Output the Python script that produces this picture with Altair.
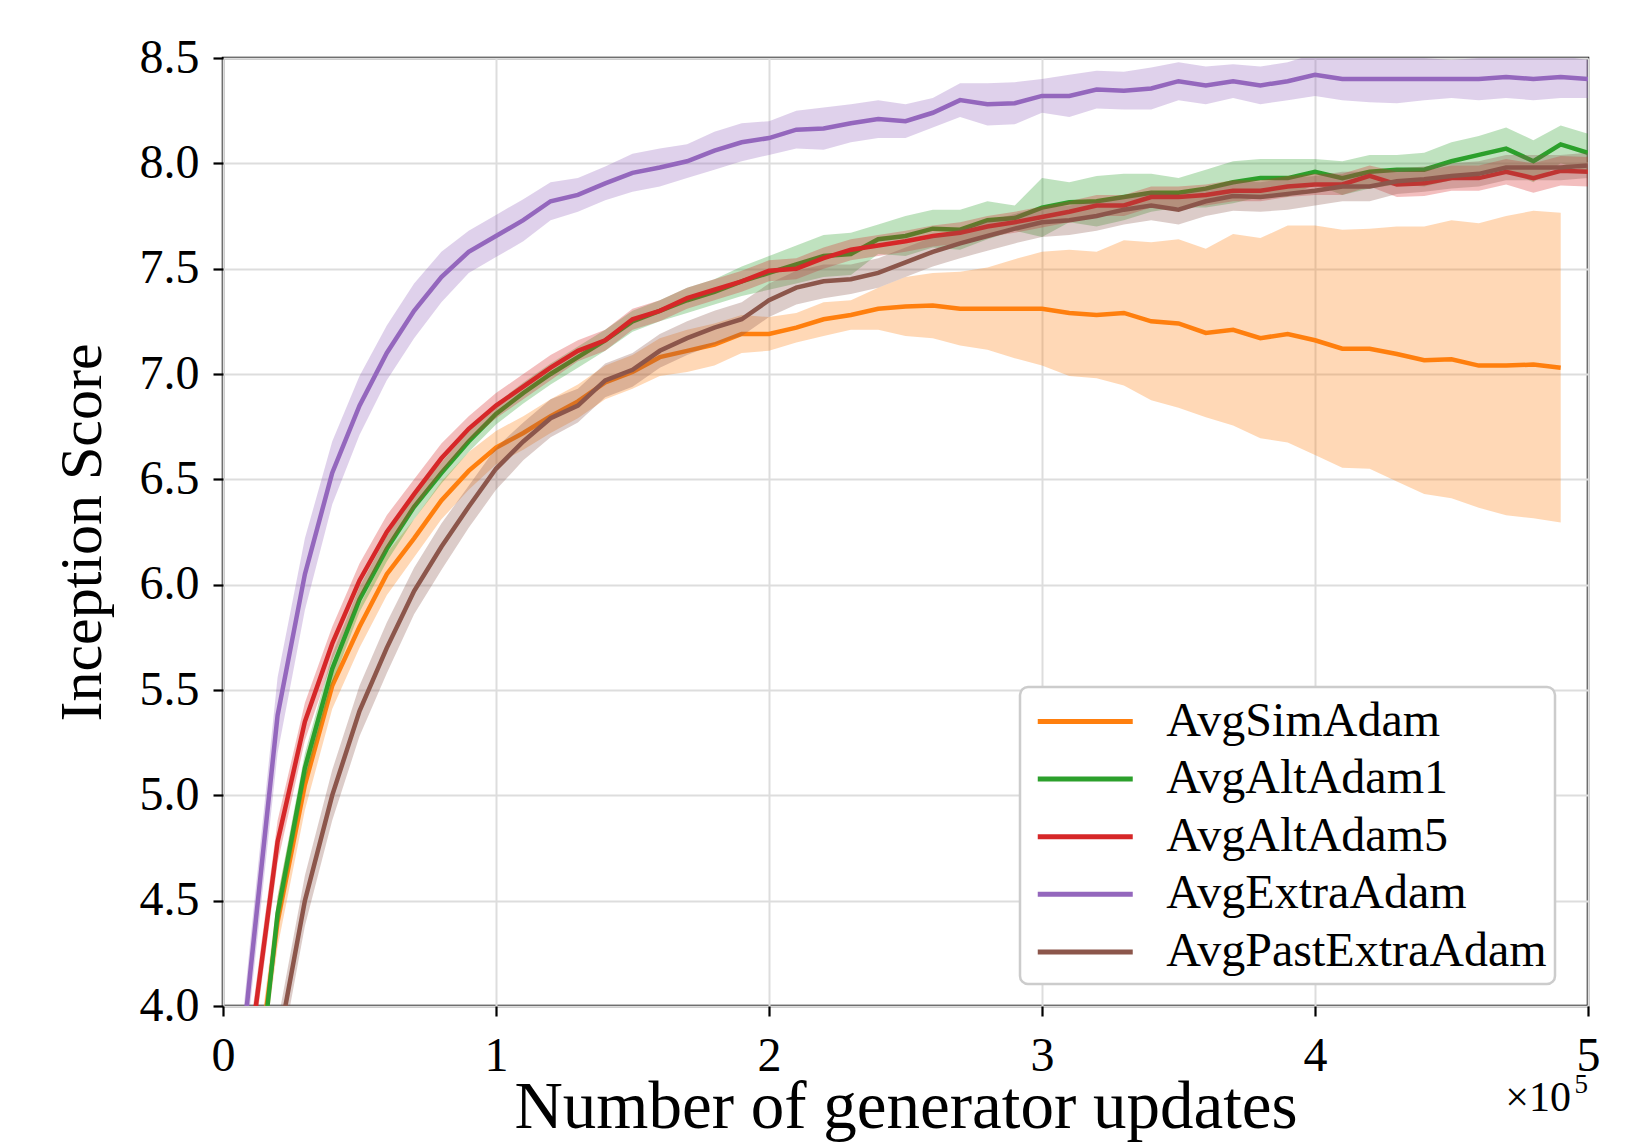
import altair as alt
import pandas as pd

# generator updates (x grid, every 1e4 updates)
updates = [i * 10000 for i in range(51)]

names = ["AvgSimAdam", "AvgAltAdam1", "AvgAltAdam5", "AvgExtraAdam", "AvgPastExtraAdam"]
colors = ["#ff7f0e", "#2ca02c", "#d62728", "#9467bd", "#8c564b"]

sim_mean = [2.2, 3.4, 4.4, 5.05, 5.52, 5.80, 6.05, 6.22, 6.40, 6.54,
            6.65, 6.72, 6.80, 6.87, 6.96, 7.01, 7.08, 7.11, 7.14, 7.19,
            7.19, 7.22, 7.26, 7.28, 7.31, 7.32, 7.325, 7.31, 7.31, 7.31,
            7.31, 7.29, 7.28, 7.29, 7.25, 7.24, 7.195, 7.21, 7.17, 7.19,
            7.16, 7.12, 7.12, 7.095, 7.065, 7.07, 7.04, 7.04, 7.045, 7.03]
sim_sd = [0.1, 0.1, 0.12, 0.12, 0.11, 0.1, 0.1, 0.09, 0.09, 0.09,
          0.08, 0.08, 0.08, 0.08, 0.08, 0.08, 0.09, 0.1, 0.1, 0.09,
          0.08, 0.07, 0.08, 0.07, 0.1, 0.14, 0.155, 0.175, 0.195, 0.235,
          0.27, 0.3, 0.3, 0.345, 0.375, 0.4, 0.4, 0.455, 0.475, 0.515,
          0.545, 0.565, 0.57, 0.605, 0.635, 0.66, 0.675, 0.71, 0.73, 0.735]

alt1_mean = [2.0, 3.25, 4.44, 5.13, 5.6, 5.93, 6.17, 6.37, 6.53, 6.68,
             6.81, 6.91, 7.0, 7.08, 7.16, 7.25, 7.30, 7.35, 7.39, 7.44,
             7.48, 7.52, 7.56, 7.57, 7.64, 7.655, 7.69, 7.685, 7.73, 7.74,
             7.79, 7.815, 7.82, 7.84, 7.86, 7.86, 7.88, 7.91, 7.93, 7.93,
             7.96, 7.93, 7.96, 7.97, 7.97, 8.01, 8.04, 8.07, 8.01, 8.09,
             8.05]
alt1_sd = [0.08, 0.08, 0.08, 0.07, 0.07, 0.06, 0.06, 0.06, 0.05, 0.05,
           0.05, 0.05, 0.05, 0.05, 0.05, 0.05, 0.05, 0.06, 0.06, 0.07,
           0.08, 0.09, 0.1, 0.10, 0.07, 0.095, 0.09, 0.095, 0.09, 0.06,
           0.14, 0.095, 0.12, 0.11, 0.09, 0.07, 0.09, 0.10, 0.09, 0.09,
           0.06, 0.08, 0.08, 0.07, 0.08, 0.09, 0.09, 0.10, 0.10, 0.09,
           0.09]

alt5_mean = [2.3, 3.8, 4.78, 5.35, 5.72, 6.02, 6.25, 6.43, 6.60, 6.74,
             6.85, 6.94, 7.03, 7.11, 7.16, 7.26, 7.30, 7.36, 7.40, 7.44,
             7.49, 7.50, 7.55, 7.59, 7.61, 7.63, 7.655, 7.67, 7.70, 7.72,
             7.745, 7.77, 7.80, 7.80, 7.84, 7.84, 7.85, 7.87, 7.87, 7.89,
             7.90, 7.90, 7.94, 7.90, 7.905, 7.93, 7.93, 7.96, 7.93, 7.965,
             7.96]
alt5_sd = [0.1, 0.1, 0.1, 0.09, 0.08, 0.08, 0.08, 0.07, 0.07, 0.06,
           0.06, 0.06, 0.06, 0.05, 0.05, 0.05, 0.05, 0.05, 0.05, 0.05,
           0.05, 0.05, 0.05, 0.05, 0.05, 0.05, 0.05, 0.05, 0.05, 0.05,
           0.05, 0.05, 0.05, 0.05, 0.05, 0.05, 0.05, 0.05, 0.05, 0.05,
           0.05, 0.05, 0.05, 0.06, 0.06, 0.06, 0.06, 0.06, 0.07, 0.07,
           0.07]

extra_mean = [2.9, 4.16, 5.38, 6.05, 6.53, 6.85, 7.10, 7.30, 7.46, 7.58,
              7.655, 7.73, 7.82, 7.85, 7.905, 7.955, 7.98, 8.01, 8.06, 8.10,
              8.12, 8.16, 8.165, 8.19, 8.21, 8.20, 8.24, 8.30, 8.28, 8.285,
              8.32, 8.32, 8.35, 8.345, 8.355, 8.39, 8.37, 8.39, 8.37, 8.39,
              8.42, 8.40, 8.40, 8.40, 8.40, 8.40, 8.40, 8.41, 8.40, 8.41,
              8.40]
extra_sd = [0.1, 0.15, 0.18, 0.17, 0.15, 0.14, 0.13, 0.13, 0.12, 0.1,
            0.1, 0.1, 0.09, 0.08, 0.08, 0.09, 0.09, 0.08, 0.09, 0.09,
            0.08, 0.09, 0.1, 0.09, 0.09, 0.08, 0.07, 0.08, 0.1, 0.1,
            0.08, 0.1, 0.09, 0.09, 0.1, 0.09, 0.09, 0.08, 0.09, 0.09,
            0.1, 0.1, 0.11, 0.115, 0.1, 0.09, 0.1, 0.1, 0.1, 0.1,
            0.09]

past_mean = [2.2, 3.0, 3.8, 4.5, 5.0, 5.40, 5.70, 5.97, 6.18, 6.37,
             6.55, 6.68, 6.79, 6.85, 6.97, 7.02, 7.11, 7.17, 7.22, 7.26,
             7.35, 7.41, 7.44, 7.45, 7.48, 7.53, 7.58, 7.62, 7.655, 7.69,
             7.72, 7.73, 7.75, 7.78, 7.80, 7.78, 7.82, 7.845, 7.84, 7.855,
             7.87, 7.89, 7.89, 7.915, 7.925, 7.94, 7.95, 7.98, 7.98, 7.98,
             7.99]
past_sd = [0.12, 0.12, 0.12, 0.12, 0.12, 0.12, 0.12, 0.11, 0.11, 0.1,
           0.1, 0.09, 0.09, 0.08, 0.08, 0.08, 0.08, 0.08, 0.08, 0.08,
           0.08, 0.08, 0.08, 0.07, 0.07, 0.07, 0.07, 0.07, 0.07, 0.07,
           0.07, 0.07, 0.07, 0.07, 0.07, 0.07, 0.07, 0.07, 0.07, 0.075,
           0.07, 0.07, 0.07, 0.06, 0.06, 0.06, 0.06, 0.06, 0.06, 0.06,
           0.06]

x_ticks = [0, 100000, 200000, 300000, 400000, 500000]
y_ticks = [4.0, 4.5, 5.0, 5.5, 6.0, 6.5, 7.0, 7.5, 8.0, 8.5]

means = [sim_mean, alt1_mean, alt5_mean, extra_mean, past_mean]
sds = [sim_sd, alt1_sd, alt5_sd, extra_sd, past_sd]

rows = []
for name, mean, sd in zip(names, means, sds):
    for u, m, s in zip(updates, mean, sd):
        rows.append({"series": name, "updates": u, "mean": m, "lo": m - s, "hi": m + s})
df = pd.DataFrame(rows)

W, H = 1365, 948
FONT = "Liberation Serif"

xscale = alt.Scale(domain=[0, 500000], nice=False, zero=False)
yscale = alt.Scale(domain=[4.0, 8.5], nice=False, zero=False)
xaxis = alt.Axis(values=x_ticks, labelExpr="format(datum.value / 100000, 'd')",
                 title="Number of generator updates", titleFontSize=67,
                 titleY=121, titleBaseline="alphabetic", labelFlush=False)
yaxis = alt.Axis(values=y_ticks, format=".1f", title="Inception Score",
                 titleFontSize=60, titleX=-123, titleY=H / 2, titleAngle=270,
                 titleBaseline="alphabetic", titleAlign="center")

color = alt.Color("series:N", scale=alt.Scale(domain=names, range=colors),
                  legend=alt.Legend(title=None, orient="none", legendX=797, legendY=629,
                                    symbolType="M-2,0H2", symbolSize=2256,
                                    symbolStrokeWidth=5, symbolOffset=30.75,
                                    labelFont=FONT, labelFontSize=48,
                                    labelColor="black", labelLimit=800,
                                    labelOffset=54.5, rowPadding=6.6, padding=8,
                                    strokeColor="#cccccc", fillColor="white",
                                    cornerRadius=8))

base = alt.Chart(df)
layers = []
for name, c in zip(names, colors):
    band = base.transform_filter(alt.datum.series == name).mark_area(
        color=c, opacity=0.3, clip=True
    ).encode(
        x=alt.X("updates:Q", scale=xscale, axis=xaxis),
        y=alt.Y("lo:Q", scale=yscale, axis=yaxis),
        y2="hi:Q",
    )
    line = base.transform_filter(alt.datum.series == name).mark_line(
        strokeWidth=4.5, clip=True
    ).encode(
        x=alt.X("updates:Q", scale=xscale, axis=xaxis),
        y=alt.Y("mean:Q", scale=yscale, axis=yaxis),
        color=color,
    )
    layers += [band, line]

offset_main = alt.Chart(pd.DataFrame({"t": ["×10"]})).mark_text(
    font=FONT, fontSize=42, align="right", baseline="alphabetic", color="black"
).encode(x=alt.value(W - 17), y=alt.value(H + 105), text="t:N")
offset_exp = alt.Chart(pd.DataFrame({"t": ["5"]})).mark_text(
    font=FONT, fontSize=27, align="right", baseline="alphabetic", color="black"
).encode(x=alt.value(W), y=alt.value(H + 87), text="t:N")

chart = alt.layer(*layers, offset_main, offset_exp).properties(
    width=W, height=H,
    autosize=alt.AutoSizeParams(type="none"),
    padding={"left": 223, "top": 58, "right": 64, "bottom": 136},
    background="white",
).configure_axis(
    grid=True, gridColor="#dddddd", gridWidth=2, domain=False,
    tickColor="black", tickWidth=2.2, tickSize=10,
    labelFont=FONT, labelFontSize=48, labelColor="black",
    titleFont=FONT, titleColor="black", titleFontWeight="normal",
).configure_axisX(labelPadding=16).configure_axisY(labelPadding=14).configure_legend(
    strokeWidth=2.5
).configure_view(
    stroke="black", strokeWidth=2.5
)

chart.save("out.html", embed_options={"renderer": "svg", "actions": False})
